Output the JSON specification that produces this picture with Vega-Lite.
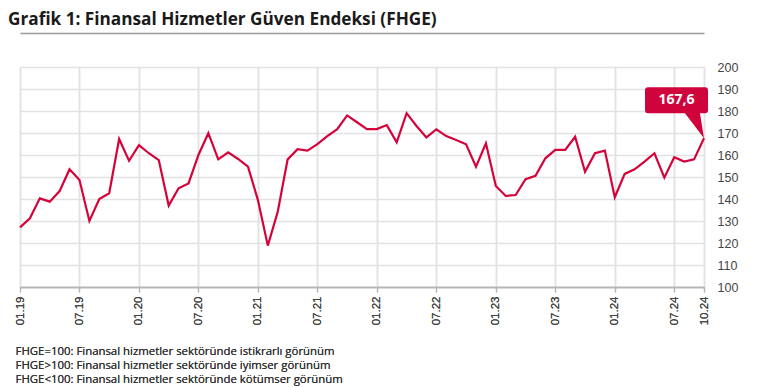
{
  "$schema": "https://vega.github.io/schema/vega-lite/v6.json",
  "width": 684,
  "height": 220,
  "autosize": {"type": "none"},
  "padding": {"left": 20, "top": 67, "right": 63, "bottom": 100},
  "background": "white",
  "title": {
    "text": "Grafik 1: Finansal Hizmetler Güven Endeksi (FHGE)",
    "anchor": "start",
    "frame": "group",
    "dx": -12,
    "font": "Open Sans",
    "fontSize": 17.2,
    "fontWeight": "bold",
    "color": "#1a1a1a",
    "offset": 5
  },
  "config": {
    "view": {"stroke": null}
  },
  "data": {
    "values": [
      {"ay": "01.19", "deger": 127.1}, {"ay": "02.19", "deger": 131.2}, {"ay": "03.19", "deger": 140.3},
      {"ay": "04.19", "deger": 138.8}, {"ay": "05.19", "deger": 143.6}, {"ay": "06.19", "deger": 153.5},
      {"ay": "07.19", "deger": 148.6}, {"ay": "08.19", "deger": 130.0}, {"ay": "09.19", "deger": 140.0},
      {"ay": "10.19", "deger": 142.6}, {"ay": "11.19", "deger": 167.3}, {"ay": "12.19", "deger": 157.4},
      {"ay": "01.20", "deger": 164.5}, {"ay": "02.20", "deger": 160.8}, {"ay": "03.20", "deger": 157.7},
      {"ay": "04.20", "deger": 137.0}, {"ay": "05.20", "deger": 144.9}, {"ay": "06.20", "deger": 147.1},
      {"ay": "07.20", "deger": 160.0}, {"ay": "08.20", "deger": 169.9}, {"ay": "09.20", "deger": 158.0},
      {"ay": "10.20", "deger": 161.2}, {"ay": "11.20", "deger": 158.2}, {"ay": "12.20", "deger": 154.7},
      {"ay": "01.21", "deger": 139.5}, {"ay": "02.21", "deger": 118.8}, {"ay": "03.21", "deger": 134.2},
      {"ay": "04.21", "deger": 158.0}, {"ay": "05.21", "deger": 162.6}, {"ay": "06.21", "deger": 162.0},
      {"ay": "07.21", "deger": 164.9}, {"ay": "08.21", "deger": 168.6}, {"ay": "09.21", "deger": 171.7},
      {"ay": "10.21", "deger": 178.0}, {"ay": "11.21", "deger": 174.9}, {"ay": "12.21", "deger": 171.8},
      {"ay": "01.22", "deger": 171.8}, {"ay": "02.22", "deger": 173.6}, {"ay": "03.22", "deger": 165.8},
      {"ay": "04.22", "deger": 179.0}, {"ay": "05.22", "deger": 173.2}, {"ay": "06.22", "deger": 168.0},
      {"ay": "07.22", "deger": 171.7}, {"ay": "08.22", "deger": 168.6}, {"ay": "09.22", "deger": 166.8},
      {"ay": "10.22", "deger": 164.9}, {"ay": "11.22", "deger": 154.7}, {"ay": "12.22", "deger": 165.3},
      {"ay": "01.23", "deger": 145.9}, {"ay": "02.23", "deger": 141.4}, {"ay": "03.23", "deger": 141.8},
      {"ay": "04.23", "deger": 149.0}, {"ay": "05.23", "deger": 150.5}, {"ay": "06.23", "deger": 158.5},
      {"ay": "07.23", "deger": 162.3}, {"ay": "08.23", "deger": 162.3}, {"ay": "09.23", "deger": 168.3},
      {"ay": "10.23", "deger": 152.4}, {"ay": "11.23", "deger": 160.8}, {"ay": "12.23", "deger": 162.0},
      {"ay": "01.24", "deger": 140.8}, {"ay": "02.24", "deger": 151.4}, {"ay": "03.24", "deger": 153.5},
      {"ay": "04.24", "deger": 157.0}, {"ay": "05.24", "deger": 160.8}, {"ay": "06.24", "deger": 149.7},
      {"ay": "07.24", "deger": 159.0}, {"ay": "08.24", "deger": 157.0}, {"ay": "09.24", "deger": 158.0},
      {"ay": "10.24", "deger": 167.6}
    ]
  },
  "encoding": {
    "x": {
      "field": "ay", "type": "nominal", "sort": null,
      "scale": {"type": "point", "padding": 0},
      "axis": {
        "orient": "bottom",
        "values": ["01.19", "07.19", "01.20", "07.20", "01.21", "07.21", "01.22", "07.22", "01.23", "07.23", "01.24", "07.24", "10.24"],
        "labelAngle": -90, "labelAlign": "right", "labelBaseline": "middle", "labelPadding": 4,
        "labelFont": "Liberation Sans", "labelFontSize": 11.5, "labelColor": "#444", "labelOverlap": false,
        "grid": true, "gridColor": "#e2e2e2", "gridWidth": 1.5,
        "domainColor": "#b5b5b5", "domainWidth": 1.5,
        "tickColor": "#b5b5b5", "tickSize": 5, "tickWidth": 1.2,
        "title": [
          "FHGE=100: Finansal hizmetler sektöründe istikrarlı görünüm",
          "FHGE>100: Finansal hizmetler sektöründe iyimser görünüm",
          "FHGE<100: Finansal hizmetler sektöründe kötümser görünüm"
        ],
        "titleAnchor": "start", "titleAlign": "left", "titleBaseline": "top",
        "titleX": -5, "titleY": 58,
        "titleFont": "Open Sans", "titleFontSize": 11.4, "titleFontWeight": "normal",
        "titleColor": "#333", "titleLineHeight": 14
      }
    },
    "y": {
      "field": "deger", "type": "quantitative",
      "scale": {"domain": [100, 200], "zero": false, "nice": false},
      "axis": {
        "orient": "right",
        "values": [100, 110, 120, 130, 140, 150, 160, 170, 180, 190, 200],
        "tickCount": 30,
        "grid": true, "gridColor": "#e2e2e2", "gridWidth": 1.5,
        "domain": false, "ticks": false, "labelPadding": 13, "labelOverlap": false,
        "labelFont": "Liberation Sans", "labelFontSize": 12.5, "labelColor": "#444",
        "title": null
      }
    }
  },
  "layer": [
    {
      "mark": {"type": "line", "color": "#d4043b", "strokeWidth": 2.2}
    },
    {
      "transform": [{"filter": "datum.ay == '10.24'"}],
      "mark": {
        "type": "point",
        "shape": "M -0.933 -0.85 L 0.017 -0.85 Q 0.067 -0.85 0.067 -0.8 L 0.067 -0.467 Q 0.067 -0.417 0.017 -0.417 L -0.067 -0.417 L 0 0 L -0.317 -0.417 L -0.933 -0.417 Q -0.983 -0.417 -0.983 -0.467 L -0.983 -0.8 Q -0.983 -0.85 -0.933 -0.85 Z",
        "filled": true, "color": "#d0043c", "size": 14400, "opacity": 1, "strokeWidth": 0
      },
      "encoding": {
        "x": {
          "field": "ay", "type": "nominal", "sort": null,
          "axis": {"orient": "top", "offset": 34, "labels": false, "ticks": false, "grid": false, "domainColor": "#999", "domainWidth": 1.5, "title": null}
        }
      }
    },
    {
      "transform": [
        {"filter": "datum.ay == '10.24'"},
        {"calculate": "replace(format(datum.deger, '.1f'), '.', ',')", "as": "etiket"}
      ],
      "mark": {"type": "text", "dx": -27.5, "dy": -38, "font": "Open Sans", "fontWeight": "bold", "fontSize": 14, "color": "white", "align": "center", "baseline": "middle"},
      "encoding": {
        "text": {"field": "etiket", "type": "nominal"}
      }
    }
  ]
}
